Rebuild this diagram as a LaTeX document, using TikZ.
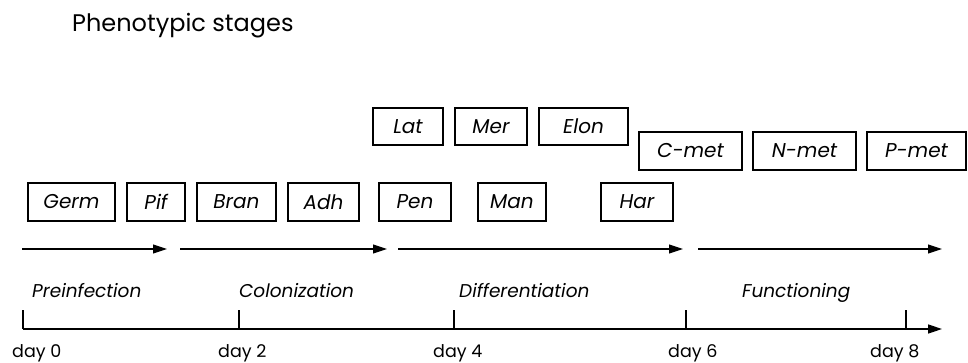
\documentclass[tikz,border=0pt]{standalone}
\usepackage{fontspec}
\setmainfont{Poppins}
\usetikzlibrary{arrows.meta}

\tikzset{
  stagebox/.style={draw, line width=1.1pt, minimum height=38pt, inner sep=0pt,
    font=\fontsize{20}{22}\selectfont\itshape},
  flow/.style={line width=1.1pt, -{Triangle[length=14pt,width=9pt]}},
  phase/.style={anchor=base west, inner sep=0pt, font=\fontsize{18.5}{20}\selectfont\itshape},
  daylabel/.style={anchor=base west, inner sep=0pt, font=\fontsize{17.5}{19}\selectfont},
}

\begin{document}
\begin{tikzpicture}[x=1pt,y=-1pt]
\useasboundingbox (0,0) rectangle (968,362);

\node[anchor=base west, inner sep=0pt, font=\fontsize{24}{26}\selectfont] (title) at (72,31) {Phenotypic stages};

% stage boxes, lower row
\node[stagebox, minimum width=87pt] (germ) at (71.5,202) {Germ};
\node[stagebox, minimum width=58pt] (pif)  at (156,202) {Pif};
\node[stagebox, minimum width=79pt] (bran) at (236.5,202) {Bran};
\node[stagebox, minimum width=71pt] (adh)  at (323.5,202) {Adh};
\node[stagebox, minimum width=72pt] (pen)  at (415,202) {Pen};
\node[stagebox, minimum width=68pt] (man)  at (512,202) {Man};
\node[stagebox, minimum width=72pt] (har)  at (637,202) {Har};

% upper row
\node[stagebox, minimum width=70pt, minimum height=37pt] (lat)  at (408,126.5) {Lat};
\node[stagebox, minimum width=72pt, minimum height=37pt] (mer)  at (491,126.5) {Mer};
\node[stagebox, minimum width=89pt, minimum height=37pt] (elon) at (583.5,126.5) {Elon};

% middle row
\node[stagebox, minimum width=103pt] (cmet) at (690.5,151) {C-met};
\node[stagebox, minimum width=103pt] (nmet) at (804.5,151) {N-met};
\node[stagebox, minimum width=99pt]  (pmet) at (916.5,151) {P-met};

% progression arrows
\coordinate (s1) at (22,249);  \coordinate (e1) at (167,249);
\coordinate (s2) at (180,249); \coordinate (e2) at (387,249);
\coordinate (s3) at (398,249); \coordinate (e3) at (683,249);
\coordinate (s4) at (698,249); \coordinate (e4) at (942,249);
\draw[flow] (s1) -- (e1);
\draw[flow] (s2) -- (e2);
\draw[flow] (s3) -- (e3);
\draw[flow] (s4) -- (e4);

% phases
\node[phase] (pre) at (32,297) {Preinfection};
\node[phase] (col) at (239,297) {Colonization};
\node[phase] (dif) at (459,297) {Differentiation};
\node[phase] (fun) at (742,297) {Functioning};

% time axis
\coordinate (t0) at (23,329);
\coordinate (t2) at (239,329);
\coordinate (t4) at (454,329);
\coordinate (t6) at (686,329);
\coordinate (t8) at (906,329);
\coordinate (tend) at (942,329);
\draw[line width=1.5pt, -{Triangle[length=14pt,width=9pt]}] (t0) -- (tend);
\draw[line width=1.3pt] (t0) -- ++(0,-19);
\draw[line width=1.3pt] (t2) -- ++(0,-19);
\draw[line width=1.3pt] (t4) -- ++(0,-19);
\draw[line width=1.3pt] (t6) -- ++(0,-19);
\draw[line width=1.3pt] (t8) -- ++(0,-19);

\node[daylabel] (day0) at (12,357) {day 0};
\node[daylabel] (day2) at (218,357) {day 2};
\node[daylabel] (day4) at (433,357) {day 4};
\node[daylabel] (day6) at (668,357) {day 6};
\node[daylabel] (day8) at (870,357) {day 8};
\end{tikzpicture}
\end{document}
